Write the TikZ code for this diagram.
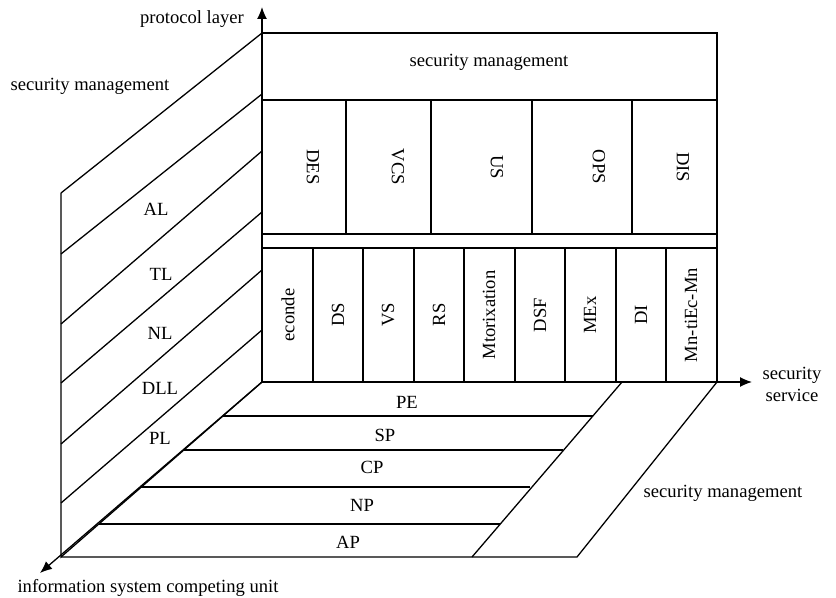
\documentclass[tikz,border=0pt]{standalone}
\usepackage{fontspec}
\setmainfont{Liberation Serif}
\usetikzlibrary{arrows.meta}

\tikzset{
  axis/.style={-{Latex[length=6pt,width=5pt]}},
  frame/.style={draw, line width=0.8pt},
  lbl/.style={inner sep=0pt},
  upword/.style={inner sep=0pt, rotate=90},
  downword/.style={inner sep=0pt, rotate=-90}
}

\begin{document}
\begin{tikzpicture}[x=0.5pt, y=-0.5pt, font=\fontsize{9.3}{11}\selectfont, line width=0.65pt]
\useasboundingbox (0,0) rectangle (836,598);

\coordinate (O) at (262,382);
\coordinate (ytip) at (262,7);
\coordinate (xtip) at (752,382);
\coordinate (ztip) at (40,573);

% service stack
\draw[frame] (262,33) rectangle (717,100);
\draw[frame] (262,100) rectangle (717,234);
\draw[frame] (262,234) rectangle (717,248);
\draw[frame] (262,248) rectangle (717,382);
\foreach \x in {346,431,532,632} \draw[frame] (\x,100) -- (\x,234);
\foreach \x in {313,363,414,464,515,565,616,666} \draw[frame] (\x,248) -- (\x,382);

\path
(489,62) node[lbl] (mgmt-top) {security management}
(313,167) node[downword] (des) {DES}
(398,167) node[downword] (vcs) {VCS}
(497,167) node[downword] (us) {US}
(599,167) node[downword] (ops) {OPS}
(683,167) node[downword] (dis) {DIS};

\foreach \x/\t in {288/econde, 338/DS, 388/VS, 439/RS, 489/Mtorixation, 540/DSF, 590/MEx, 641/DI, 691/Mn-tiEc-Mn}
  \node[upword] (svc-\t) at (\x,315) {\t};

% layer face
\foreach \a/\b in {193/33, 254/94, 324/151, 383/212, 444/270, 503/330}
  \draw (61,\a) -- (262,\b);
\draw (61,193) -- (61,557) -- (O);

\path
(156,209) node[lbl] (al) {AL}
(161,274) node[lbl] (tl) {TL}
(160,333) node[lbl] (nl) {NL}
(160,388) node[lbl] (dll) {DLL}
(160,438) node[lbl] (pl) {PL};

% unit face
\draw (61,557) -- (577,557) -- (717,382);
\draw (472,557) -- (622,382);
\foreach \l/\r/\y in {223/593/416, 184/563/450, 141/530/487, 99/500/524}
  \draw (\l,\y) -- (\r,\y);

\path
(407,402) node[lbl] (pe) {PE}
(385,435) node[lbl] (sp) {SP}
(372,467) node[lbl] (cp) {CP}
(362,505) node[lbl] (np) {NP}
(348,542) node[lbl] (ap) {AP};

% axes
\draw[axis] (O) -- (ytip);
\draw[axis] (O) -- (xtip);
\draw[axis] (O) -- (ztip);

\path
(192,19) node[lbl] (ylab) {protocol layer}
(90,86) node[lbl] (mgmt-left) {security management}
(792,384) node[lbl, align=center] (xlab) {security\\service}
(723,493) node[lbl] (mgmt-right) {security management}
(148,588) node[lbl] (zlab) {information system competing unit};
\end{tikzpicture}
\end{document}
